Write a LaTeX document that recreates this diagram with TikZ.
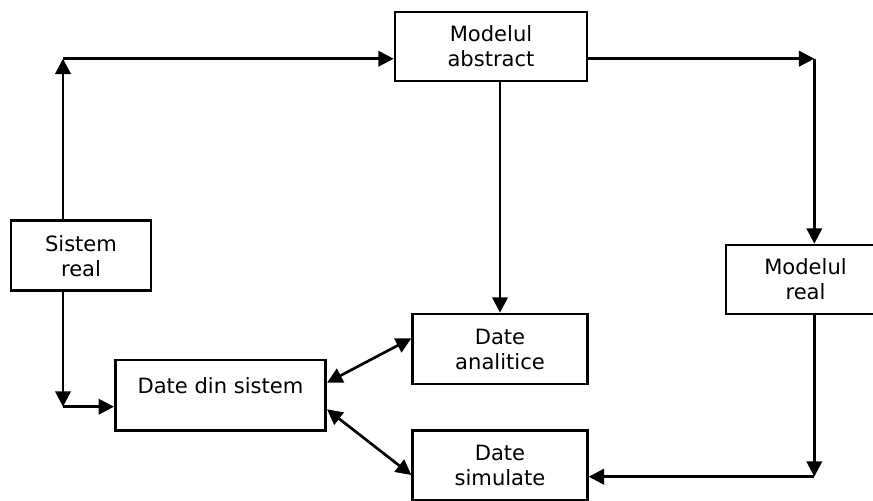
\documentclass[tikz,border=0pt]{standalone}
\usepackage{fontspec}
\setmainfont{DejaVu Sans}
\usetikzlibrary{arrows.meta}
\begin{document}
\begin{tikzpicture}[x=0.75pt,y=-0.75pt,
  txt/.style={inner sep=0pt,align=center,font=\fontsize{15.8}{18.75}\selectfont},
  box/.style={txt,draw,line width=2pt},
  tip/.tip={Triangle[length=11.5pt,width=11.5pt]},
  link/.style={line width=2pt,-tip},
  both/.style={line width=2pt,tip-tip}]
\useasboundingbox (0,0) rectangle (873,500);

% blocks
\node[box,minimum width=144pt,minimum height=51.75pt] (abs) at (491,46.5) {Modelul\\abstract};
\node[box,minimum width=105pt,minimum height=52.5pt] (sys) at (81,255.7) {Sistem\\real};
\node[box,minimum width=157.8pt,minimum height=53pt] (din) at (220.5,395.3) {};
\node[txt] (dintext) at ([yshift=7pt]din.center) {Date din sistem};
\node[box,minimum width=131pt,minimum height=52.5pt] (ana) at (500,349) {Date\\analitice};
\node[box,minimum width=131pt,minimum height=52.5pt] (sim) at (500,465.3) {Date\\simulate};
\node[box,minimum width=119.25pt,minimum height=51.75pt] (mreal) at (805.5,279.5) {Modelul\\real};

% corner points of the routed connectors
\coordinate (tl) at (63,58.7);
\coordinate (bl) at (63,406.7);
\coordinate (tr) at (814.3,58.7);
\coordinate (br) at (814.3,476.7);
\coordinate (da) at (325.7,382.7);
\coordinate (aa) at (412.7,338.3);
\coordinate (ds) at (325.7,409.3);
\coordinate (ss) at (412.7,475);

% connectors
\draw[link] (sys.north -| tl) -- (tl);
\draw[link] (tl) -- (abs.west |- tl);
\draw[link] (abs.east |- tr) -- (tr);
\draw[link] (tr) -- (mreal.north -| tr);
\draw[link] (mreal.south -| br) -- (br);
\draw[link] (br) -- (sim.east |- br);
\draw[link] (abs.south -| ana.north) -- (ana.north);
\draw[link] (sys.south -| bl) -- (bl);
\draw[link] (bl) -- (din.west |- bl);
\draw[both] (din.east |- da) -- (ana.west |- aa);
\draw[both] (din.east |- ds) -- (sim.west |- ss);
\end{tikzpicture}
\end{document}
